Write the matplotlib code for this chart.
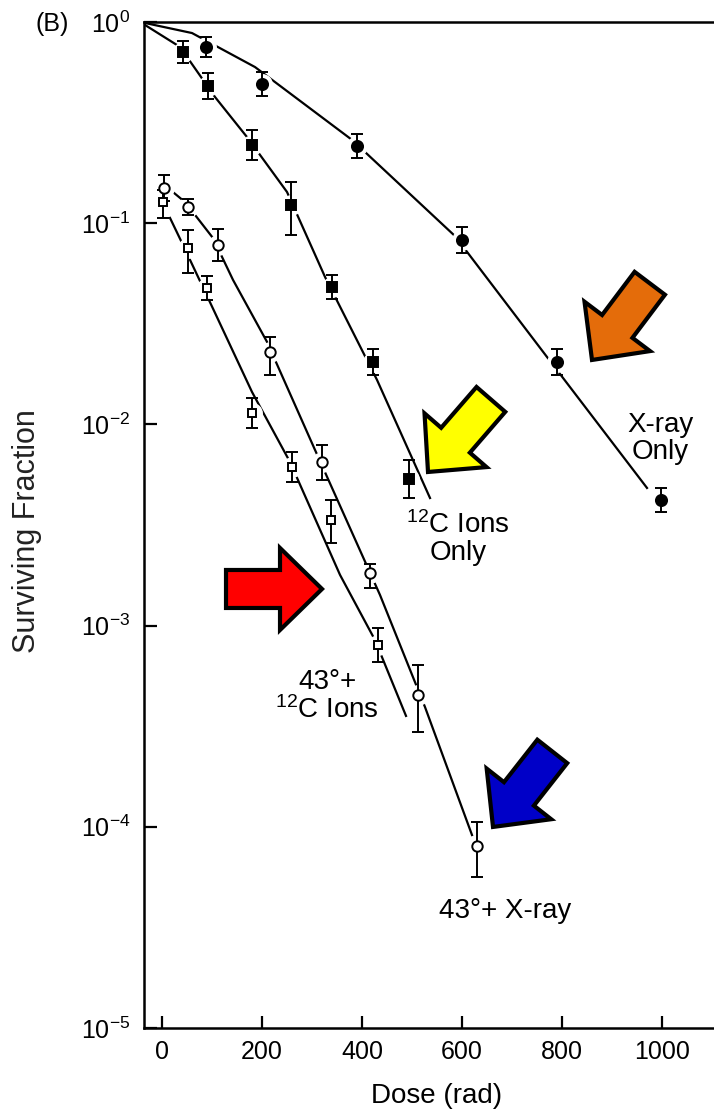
import numpy as np
import matplotlib
matplotlib.use('Agg')
import matplotlib.pyplot as plt
from matplotlib.patches import Polygon
from matplotlib.transforms import IdentityTransform

plt.rcParams['font.family'] = ['Liberation Sans', 'DejaVu Sans']
plt.rcParams['mathtext.default'] = 'regular'

# ---- data (dose in rad, surviving fraction) ----
xray_dose = [87, 200, 390, 600, 790, 997]
xray_sf = [0.751, 0.492, 0.242, 0.0825, 0.0204, 0.0042]
xray_err_up = [0.05, 0.06, 0.06, 0.065, 0.065, 0.06]     # log10 units
xray_err_dn = [0.05, 0.06, 0.06, 0.065, 0.065, 0.06]

c12_dose = [42, 92, 180, 258, 340, 422, 494]
c12_sf = [0.709, 0.481, 0.245, 0.123, 0.0482, 0.0204, 0.00535]
c12_err_up = [0.055, 0.065, 0.075, 0.115, 0.06, 0.065, 0.095]
c12_err_dn = [0.055, 0.065, 0.075, 0.15, 0.06, 0.065, 0.095]

hx_dose = [4, 52, 112, 216, 320, 416, 512, 630]
hx_sf = [0.1496, 0.1205, 0.078, 0.0229, 0.0065, 0.00183, 4.52e-4, 8.03e-5]
hx_err_up = [0.065, 0.04, 0.08, 0.075, 0.085, 0.045, 0.15, 0.12]
hx_err_dn = [0.065, 0.04, 0.08, 0.115, 0.09, 0.075, 0.185, 0.155]

hc_dose = [2, 52, 90, 180, 260, 338, 432]
hc_sf = [0.1274, 0.0753, 0.0476, 0.0114, 0.00614, 0.00335, 8.0e-4]
hc_err_up = [0.06, 0.09, 0.06, 0.075, 0.075, 0.10, 0.085]
hc_err_dn = [0.08, 0.125, 0.06, 0.075, 0.075, 0.115, 0.085]

# fitted curves, nodes (dose, log10 SF)
xray_fit_x = [-34, 60, 186, 380, 586, 770, 970]
xray_fit_l = [-0.005, -0.055, -0.224, -0.586, -1.064, -1.665, -2.316]
c12_fit_x = [-34, 36, 106, 170, 250, 326, 430, 536]
c12_fit_l = [-0.015, -0.124, -0.373, -0.572, -0.845, -1.267, -1.779, -2.366]
hx_fit_x = [12, 46, 102, 142, 210, 306, 436, 526, 620]
hx_fit_l = [-0.825, -0.895, -1.074, -1.282, -1.590, -2.127, -2.848, -3.405, -4.041]
hc_fit_x = [16, 40, 106, 180, 256, 356, 426, 488]
hc_fit_l = [-0.974, -1.098, -1.446, -1.839, -2.187, -2.748, -3.072, -3.449]

dose_ticks = [0, 200, 400, 600, 800, 1000]
sf_ticks = [1, 1e-1, 1e-2, 1e-3, 1e-4, 1e-5]
sf_ticklabels = [r'$10^{0}$', r'$10^{-1}$', r'$10^{-2}$', r'$10^{-3}$',
                 r'$10^{-4}$', r'$10^{-5}$']

fig = plt.figure(figsize=(7.14, 11.10), dpi=100)
ax = fig.add_axes([0.2017, 0.0739, 0.7983, 0.9063])
ax.set_yscale('log')
ax.set_xlim(-36, 1104)
ax.set_ylim(1e-5, 1)

# fitted lines
for fx, fl in [(xray_fit_x, xray_fit_l), (c12_fit_x, c12_fit_l),
               (hx_fit_x, hx_fit_l), (hc_fit_x, hc_fit_l)]:
    ax.plot(fx, 10 ** np.array(fl), color='k', lw=1.6, zorder=1)

series = [
    (xray_dose, xray_sf, xray_err_up, xray_err_dn, 'o', 'k', 8),
    (c12_dose, c12_sf, c12_err_up, c12_err_dn, 's', 'k', 7),
    (hx_dose, hx_sf, hx_err_up, hx_err_dn, 'o', 'white', 7.5),
    (hc_dose, hc_sf, hc_err_up, hc_err_dn, 's', 'white', 6),
]
for d, sf, eu, ed, m, fc, ms in series:
    sf = np.array(sf)
    lo = sf - sf * 10 ** -np.array(ed)
    hi = sf * 10 ** np.array(eu) - sf
    # white halo so the fitted line breaks around each point
    ax.plot(d, sf, 'o', ms=14, color='white', zorder=2)
    ax.errorbar(d, sf, yerr=[lo, hi], fmt='none', ecolor='k', elinewidth=1.4,
                capsize=4, capthick=1.4, zorder=3)
    ax.plot(d, sf, m, ms=ms, mfc=fc, mec='k', mew=1.4, ls='none', zorder=4)

# axes styling
ax.spines['right'].set_visible(False)
for s in ['left', 'top', 'bottom']:
    ax.spines[s].set_linewidth(1.8)
ax.set_xticks(dose_ticks)
ax.set_yticks(sf_ticks)
ax.set_yticklabels(sf_ticklabels)
ax.minorticks_off()
ax.tick_params(axis='both', direction='in', length=9, width=1.6, colors='k')
ax.tick_params(axis='x', labelsize=18, pad=9)
ax.tick_params(axis='y', labelsize=18, pad=10)

ax.set_xlabel('Dose (rad)', fontsize=20)
ax.xaxis.set_label_coords(0.514, -0.055)
ax.set_ylabel('Surviving Fraction', fontsize=22, color='#222222')
ax.yaxis.set_label_coords(-0.179, 0.494)

fig.text(0.050, 0.978, '(B)', fontsize=18, va='center')

# curve labels
lab = dict(fontsize=20, ha='center', va='center', linespacing=1.05)
ax.text(996, 0.00855, 'X-ray\nOnly', **lab)
ax.text(592, 0.00272, '$^{12}$C Ions\nOnly', **lab)
ax.text(330, 4.42e-4, '43\u00b0+\n$^{12}$C Ions', **lab)
ax.text(686, 3.8e-5, '43\u00b0+ X-ray', **lab)

# block arrows: tip in data coords, direction tip->tail in pixels
arrow_tips = [(860, 0.0209), (532, 0.0058), (320, 0.00152), (662, 9.98e-5)]
arrow_dirs = [(58, 77), (65, 75), (-100, 0), (62, 79)]
arrow_colors = ['#E46C0A', '#FFFF00', '#FF0000', '#0000C8']


def block_arrow(tip, vec, length=96, shaft=38, head=82, head_len=42):
    tip = np.array(tip, float)
    u = np.array(vec, float)
    u /= np.hypot(*u)
    n = np.array([-u[1], u[0]])
    pts = [tip,
           tip + u * head_len + n * head / 2,
           tip + u * head_len + n * shaft / 2,
           tip + u * length + n * shaft / 2,
           tip + u * length - n * shaft / 2,
           tip + u * head_len - n * shaft / 2,
           tip + u * head_len - n * head / 2]
    return np.array(pts)


for tip, vec, col in zip(arrow_tips, arrow_dirs, arrow_colors):
    tip_px = ax.transData.transform(tip)
    poly = Polygon(block_arrow(tip_px, vec), closed=True, fc=col, ec='k',
                   lw=3, joinstyle='miter', transform=IdentityTransform(),
                   zorder=10)
    fig.add_artist(poly)

fig.savefig('out.png', dpi=100)
